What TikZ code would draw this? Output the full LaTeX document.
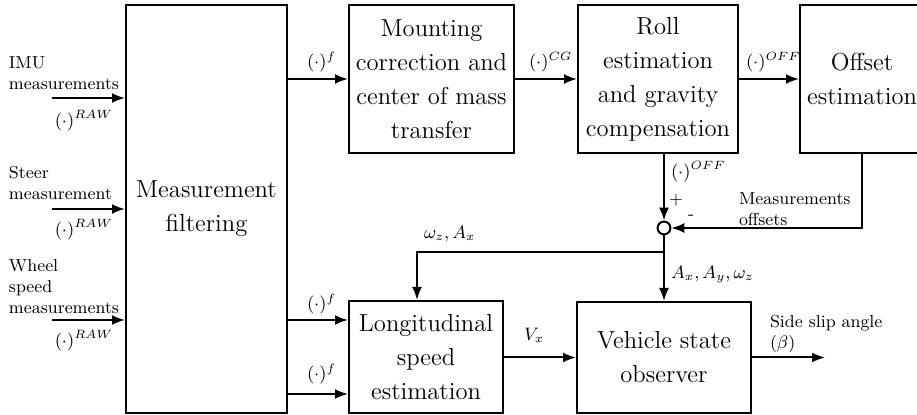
\documentclass[tikz,border=0pt]{standalone}
\usetikzlibrary{arrows.meta}
\begin{document}
\begin{tikzpicture}[x=0.5pt,y=-0.5pt,
  line width=1pt,
  >={Latex[length=6.5pt,width=5pt]},
  block/.style={draw,rectangle,inner sep=0pt,align=center,font=\fontsize{12.3}{17}\selectfont},
  lbl/.style={inner sep=0pt,font=\fontsize{8.7}{10.5}\selectfont},
  sumnode/.style={draw,circle,minimum size=6.4pt,inner sep=0pt}]
\path[use as bounding box,clip] (0,0) rectangle (917,415);

% processing blocks
\node[block,minimum width=80.5pt,minimum height=204pt] (mf) at (206.5,209) {Measurement\\filtering};
\node[block,minimum width=82.5pt,minimum height=74pt] (mc) at (431.5,79) {Mounting\\correction and\\center of mass\\transfer};
\node[block,minimum width=80pt,minimum height=74pt] (roll) at (658,79) {Roll\\estimation\\and gravity\\compensation};
\node[block,minimum width=62pt,minimum height=74pt] (off) at (862,79) {Offset\\estimation};
\node[block,minimum width=77pt,minimum height=56pt] (lon) at (426,357) {Longitudinal\\speed\\estimation};
\node[block,minimum width=87pt,minimum height=55.5pt] (veh) at (664,357.5) {Vehicle state\\observer};
\node[sumnode] (sum) at (664,228) {};

% free ends and bends
\coordinate (imuin) at (52,98);
\coordinate (steerin) at (52,209);
\coordinate (wheelin) at (52,320);
\coordinate (fy1) at (0,320);
\coordinate (fy2) at (0,394);
\coordinate (branch) at (664,252);
\coordinate (corner) at (417,252);
\coordinate (offcorner) at (862,228);
\coordinate (sideout) at (825,357.5);

% inputs
\draw[->] (imuin) -- (imuin -| mf.west);
\draw[->] (steerin) -- (steerin -| mf.west);
\draw[->] (wheelin) -- (wheelin -| mf.west);

% upper chain
\draw[->] (mf.east |- mc.west) -- (mc.west);
\draw[->] (mc.east) -- (roll.west);
\draw[->] (roll.east) -- (off.west);
\draw[->] (roll.south -| sum) -- (sum.north);
\draw[->] (off.south) -- (offcorner) -- (sum.east);

% lower chain
\draw[->] (sum.south) -- (veh.north);
\draw[->] (branch) -- (corner) -- (corner |- lon.north);
\draw[->] (mf.east |- fy1) -- (lon.west |- fy1);
\draw[->] (mf.east |- fy2) -- (lon.west |- fy2);
\draw[->] (lon.east |- veh.west) -- (veh.west);
\draw[->] (veh.east) -- (sideout);

% input labels
\node[lbl,anchor=west,align=left] (imutxt) at (8,73.5) {IMU\\measurements};
\node[lbl,anchor=west,align=left] (steertxt) at (8,183) {Steer\\measurement};
\node[lbl,anchor=west,align=left] (wheeltxt) at (8,287) {Wheel\\speed\\measurements};
\node[lbl,anchor=base] (raw1) at (84,126.5) {$(\cdot)^{RAW}$};
\node[lbl,anchor=base] (raw2) at (84,235.5) {$(\cdot)^{RAW}$};
\node[lbl,anchor=base] (raw3) at (84,346.5) {$(\cdot)^{RAW}$};

% signal labels
\node[lbl,anchor=base west] (f1) at (306,68) {$(\cdot)^{f}$};
\node[lbl,anchor=base west] (cg) at (528,68) {$(\cdot)^{CG}$};
\node[lbl,anchor=base west] (off1) at (745,68) {$(\cdot)^{OFF}$};
\node[lbl,anchor=base west] (off2) at (670,177.5) {$(\cdot)^{OFF}$};
\node[lbl] (plus) at (676,200) {+};
\node[lbl] (minus) at (691,217) {-};
\node[lbl,anchor=west,align=left] (offtxt) at (738,209) {Measurements\\offsets};
\node[lbl,anchor=base west] (axay) at (670,279) {$A_x, A_y, \omega_z$};
\node[lbl,anchor=base west] (wzax) at (423,238.5) {$\omega_z, A_x$};
\node[lbl,anchor=base west] (f2) at (306,310) {$(\cdot)^{f}$};
\node[lbl,anchor=base west] (f3) at (306,380) {$(\cdot)^{f}$};
\node[lbl,anchor=base west] (vx) at (523,341) {$V_x$};
\node[lbl,anchor=west,align=left] (beta) at (769,334) {Side slip angle\\($\beta$)};
\end{tikzpicture}
\end{document}
